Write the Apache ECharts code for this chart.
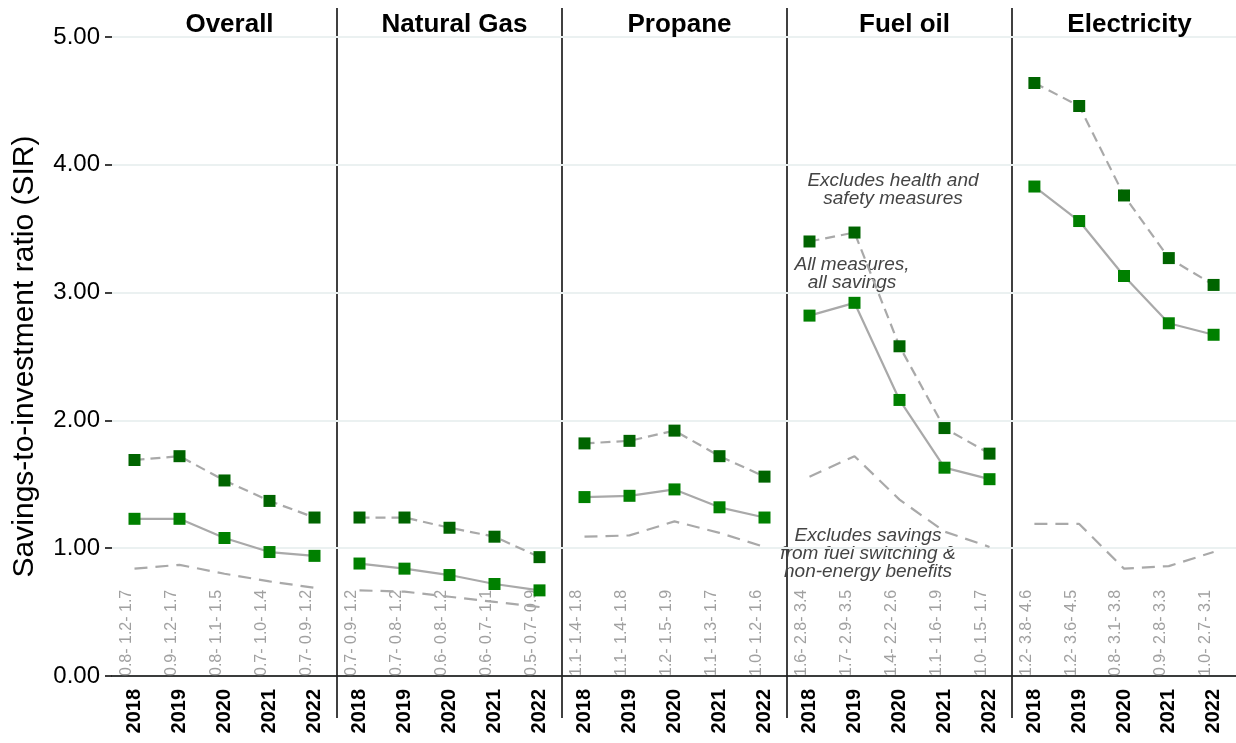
<!DOCTYPE html>
<html>
<head>
<meta charset="utf-8">
<script src="https://cdn.jsdelivr.net/npm/echarts@6/dist/echarts.min.js"></script>
<style>
html, body { margin: 0; padding: 0; background: #fff; }
#main { width: 1236px; height: 743px; }
</style>
</head>
<body>
<div id="main"></div>
<script>
const panels = ['Overall', 'Natural Gas', 'Propane', 'Fuel oil', 'Electricity']
const years = ['2018', '2019', '2020', '2021', '2022']

// excludes health and safety measures (dark squares, dashed line)
const exclHealthSafety = [
  [1.69, 1.72, 1.53, 1.37, 1.24],
  [1.24, 1.24, 1.16, 1.09, 0.93],
  [1.82, 1.84, 1.92, 1.72, 1.56],
  [3.40, 3.47, 2.58, 1.94, 1.74],
  [4.64, 4.46, 3.76, 3.27, 3.06]
]
// all measures, all savings (green squares, solid line)
const allMeasures = [
  [1.23, 1.23, 1.08, 0.97, 0.94],
  [0.88, 0.84, 0.79, 0.72, 0.67],
  [1.40, 1.41, 1.46, 1.32, 1.24],
  [2.82, 2.92, 2.16, 1.63, 1.54],
  [3.83, 3.56, 3.13, 2.76, 2.67]
]
// excludes savings from fuel switching & non-energy benefits (dashed, no marks)
const exclFuelSwitch = [
  [0.84, 0.87, 0.80, 0.74, 0.69],
  [0.67, 0.66, 0.62, 0.58, 0.54],
  [1.09, 1.10, 1.21, 1.12, 1.01],
  [1.56, 1.72, 1.38, 1.13, 1.01],
  [1.19, 1.19, 0.84, 0.86, 0.97]
]

const font = 'Liberation Sans, Arial, Helvetica, sans-serif'
const panelLeft = 112
const panelWidth = 225
const plotTop = 37
const plotBottom = 676

const chart = echarts.init(document.getElementById('main'))

const grids = []
const xAxes = []
const yAxes = []
const series = []
const titles = []
const graphics = []

panels.forEach((name, i) => {
  const left = panelLeft + panelWidth * i
  grids.push({ left: left, top: plotTop, width: panelWidth, height: plotBottom - plotTop })
  titles.push({
    text: name,
    left: left + panelWidth / 2,
    top: 7,
    textAlign: 'center',
    textStyle: { fontFamily: font, fontSize: 26, fontWeight: 'bold', color: '#000' }
  })
  xAxes.push({
    type: 'category',
    gridIndex: i,
    data: years,
    boundaryGap: true,
    axisLine: { show: true, lineStyle: { color: '#000', width: 1.5 } },
    axisTick: { show: false },
    axisLabel: {
      rotate: 90,
      margin: 13,
      fontFamily: font,
      fontSize: 20,
      fontWeight: 'bold',
      color: '#000'
    },
    splitLine: { show: false }
  })
  yAxes.push({
    type: 'value',
    gridIndex: i,
    min: 0,
    max: 5,
    interval: 1,
    name: i === 0 ? 'Savings-to-investment ratio (SIR)' : '',
    nameLocation: 'middle',
    nameGap: 72,
    nameTextStyle: { fontFamily: font, fontSize: 30, color: '#000' },
    axisLine: { show: false },
    axisTick: { show: i === 0, length: 7, lineStyle: { color: '#000', width: 1.5 } },
    axisLabel: {
      show: i === 0,
      margin: 12,
      fontFamily: font,
      fontSize: 24,
      color: '#000',
      formatter: (v) => v.toFixed(2)
    },
    splitLine: { show: true, lineStyle: { color: '#ebf1f1', width: 2 } }
  })

  // range labels "low- mid- high" standing on the x axis
  const rangeLabels = years.map((y, j) =>
    exclFuelSwitch[i][j].toFixed(1) + '- ' + allMeasures[i][j].toFixed(1) + '- ' + exclHealthSafety[i][j].toFixed(1))
  series.push({
    type: 'scatter',
    xAxisIndex: i,
    yAxisIndex: i,
    silent: true,
    symbolSize: 1,
    itemStyle: { color: 'rgba(0,0,0,0)' },
    data: years.map((y, j) => [j, 0]),
    label: {
      show: true,
      position: 'inside',
      rotate: 90,
      align: 'left',
      verticalAlign: 'bottom',
      fontFamily: font,
      fontSize: 16,
      color: '#888888',
      formatter: (p) => rangeLabels[p.dataIndex]
    },
    z: 1
  })

  series.push({
    type: 'line',
    xAxisIndex: i,
    yAxisIndex: i,
    data: exclFuelSwitch[i],
    showSymbol: false,
    symbol: 'none',
    lineStyle: { color: '#a9a9a9', width: 2.2, type: [13, 8] },
    z: 2
  })
  series.push({
    type: 'line',
    xAxisIndex: i,
    yAxisIndex: i,
    data: allMeasures[i],
    symbol: 'rect',
    symbolSize: 12,
    itemStyle: { color: '#008000' },
    lineStyle: { color: '#a9a9a9', width: 2.2 },
    z: 3
  })
  series.push({
    type: 'line',
    xAxisIndex: i,
    yAxisIndex: i,
    data: exclHealthSafety[i],
    symbol: 'rect',
    symbolSize: 12,
    itemStyle: { color: '#006400' },
    lineStyle: { color: '#a9a9a9', width: 2.2, type: [10, 6] },
    z: 4
  })

  // black separators between panels
  if (i > 0) {
    graphics.push({
      type: 'line',
      shape: { x1: left, y1: 8, x2: left, y2: 718 },
      style: { stroke: '#000', lineWidth: 1.5 },
      silent: true
    })
  }
})

const noteStyle = {
  font: 'italic 19px ' + font,
  fill: '#444',
  textAlign: 'center',
  lineHeight: 18
}
graphics.push(
  { type: 'text', x: 893, y: 172, style: Object.assign({ text: 'Excludes health and\nsafety measures' }, noteStyle) },
  { type: 'text', x: 852, y: 256, style: Object.assign({ text: 'All measures,\nall savings' }, noteStyle) },
  { type: 'text', x: 868, y: 527, style: Object.assign({ text: 'Excludes savings\nfrom fuel switching &\nnon-energy benefits' }, noteStyle) }
)

chart.setOption({
  animation: false,
  backgroundColor: '#fff',
  title: titles,
  grid: grids,
  xAxis: xAxes,
  yAxis: yAxes,
  series: series,
  graphic: graphics
})
</script>
</body>
</html>
